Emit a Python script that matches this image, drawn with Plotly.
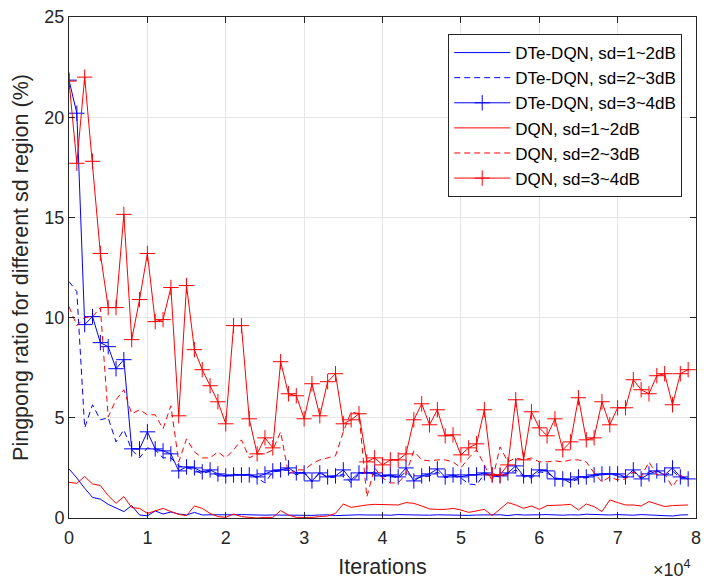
import numpy as np
import plotly.graph_objects as go

# Iterations (x 10^4 shown on axis)
iterations = np.arange(0, 80000, 1000)

dte_12 = [2.45, 2.0, 1.48, 1.03, 0.94, 0.68, 0.5, 0.32, 0.62, 0.15,
          0.11, 0.35, 0.2, 0.3, 0.2, 0.15, 0.28, 0.15, 0.16, 0.15,
          0.15, 0.16, 0.17, 0.15, 0.16, 0.14, 0.15, 0.14, 0.13, 0.15,
          0.14, 0.13, 0.15, 0.16, 0.12, 0.14, 0.15, 0.16, 0.15, 0.16,
          0.15, 0.14, 0.17, 0.16, 0.15, 0.15, 0.14, 0.16, 0.15, 0.17,
          0.15, 0.13, 0.15, 0.16, 0.15, 0.16, 0.12, 0.17, 0.15, 0.17,
          0.16, 0.17, 0.15, 0.14, 0.16, 0.15, 0.19, 0.17, 0.16, 0.15,
          0.17, 0.16, 0.14, 0.17, 0.16, 0.15, 0.13, 0.1, 0.15, 0.16]
dte_23 = [11.8, 11.3, 4.5, 5.65, 4.9, 5.0, 3.8, 4.4, 3.4, 3.0,
          3.5, 3.4, 3.0, 3.0, 2.6, 2.5, 2.4, 2.2, 2.35, 2.1,
          2.1, 2.2, 2.1, 2.2, 2.0, 1.75, 2.3, 2.35, 2.4, 2.15,
          2.3, 1.8, 2.3, 2.0, 2.05, 2.2, 1.75, 2.2, 2.3, 2.15,
          2.05, 2.1, 2.0, 2.3, 1.95, 2.05, 2.1, 2.3, 2.0, 2.1,
          2.0, 1.7, 1.65, 2.2, 2.1, 2.05, 2.2, 2.4, 2.05, 2.0,
          2.3, 2.25, 2.0, 1.95, 1.75, 2.0, 2.0, 2.1, 2.15, 2.2,
          2.1, 2.0, 2.3, 2.0, 2.3, 2.4, 2.1, 2.35, 2.0, 2.0]
dte_34 = [21.85, 20.2, 9.65, 10.05, 8.75, 8.55, 7.45, 7.9, 3.45, 3.45,
          4.3, 3.45, 3.35, 3.2, 2.35, 2.55, 2.5, 2.3, 2.4, 2.2,
          2.1, 2.15, 2.15, 2.15, 2.05, 2.2, 2.35, 2.4, 2.5, 2.25,
          2.25, 1.85, 2.25, 2.05, 2.1, 2.4, 1.9, 2.25, 2.25, 2.25,
          2.1, 2.15, 2.05, 2.5, 1.85, 2.1, 2.2, 2.45, 2.05, 2.15,
          2.05, 2.15, 2.15, 2.25, 2.15, 2.1, 2.25, 2.6, 2.1, 2.1,
          2.4, 2.35, 1.95, 1.95, 1.9, 2.05, 2.05, 2.15, 2.2, 2.2,
          2.2, 2.05, 2.4, 1.95, 2.2, 2.35, 2.15, 2.5, 2.05, 1.95]
dqn_12 = [1.78, 1.73, 2.07, 1.7, 1.62, 1.12, 0.73, 1.07, 0.52, 0.48,
          0.23, 0.35, 0.48, 0.32, 0.18, 0.12, 0.6, 0.48, 0.23, 0.07,
          0.03, 0.2, 0.07, 0.03, 0.0, 0.03, 0.03, 0.37, 0.15, 0.03,
          0.03, 0.03, 0.07, 0.1, 0.23, 0.7, 0.53, 0.6, 0.65, 0.68,
          0.68, 0.65, 0.65, 0.77, 0.73, 0.6, 0.45, 0.43, 0.43, 0.48,
          0.4, 0.28, 0.37, 0.43, 0.12, 0.45, 0.77, 0.65, 0.48, 0.6,
          0.43, 0.62, 0.62, 0.65, 0.68, 0.4, 0.7, 0.57, 0.32, 0.9,
          0.77, 0.65, 0.65, 0.6, 0.82, 0.68, 0.57, 0.62, 0.65, 0.65]
dqn_23 = [10.55, 9.6, 10.0, 10.05, 10.5, 5.05, 5.9, 6.4, 5.2, 5.4,
          5.15, 5.15, 4.45, 5.6, 2.8, 3.95, 3.3, 3.0, 3.0, 3.3,
          3.0, 3.4, 3.9, 3.0, 3.2, 3.2, 3.4, 4.3, 2.2, 2.4,
          2.4, 2.7, 2.9, 3.0, 3.1, 4.3, 5.3, 5.2, 1.05, 2.5,
          2.0, 1.75, 1.75, 2.2, 3.35, 2.9, 2.85, 2.9, 2.9, 2.8,
          2.5, 3.0, 3.4, 2.65, 1.85, 3.55, 2.8, 3.0, 2.9, 3.0,
          2.8, 2.8, 2.85, 2.8, 2.9, 2.9, 2.8, 2.25, 1.8, 2.05,
          1.9, 1.95, 2.3, 2.05, 2.8, 2.15, 2.2, 1.55, 2.15, 1.9]
dqn_34 = [21.8, 17.7, 22.0, 17.8, 13.2, 10.5, 10.5, 15.15, 8.9, 10.9,
          13.2, 9.8, 9.9, 11.5, 5.1, 11.6, 8.4, 7.4, 6.6, 5.8,
          4.7, 9.6, 9.6, 4.95, 3.2, 4.0, 3.5, 7.8, 6.2, 6.1,
          4.95, 6.7, 5.1, 6.8, 7.2, 4.7, 4.9, 5.2, 2.8, 3.0,
          2.65, 2.9, 2.9, 3.2, 4.9, 5.7, 4.65, 5.4, 4.1, 4.15,
          3.15, 3.5, 3.7, 5.4, 2.15, 2.15, 2.65, 5.9, 2.9, 5.3,
          4.5, 4.1, 4.95, 3.4, 3.8, 6.0, 3.9, 4.0, 5.8, 4.65,
          5.5, 5.5, 6.9, 6.4, 6.2, 7.1, 7.2, 5.65, 7.2, 7.4]

series_names = ["DTe-DQN, sd=1~2dB", "DTe-DQN, sd=2~3dB", "DTe-DQN, sd=3~4dB",
                "DQN, sd=1~2dB", "DQN, sd=2~3dB", "DQN, sd=3~4dB"]
x_tick_vals = [0, 10000, 20000, 30000, 40000, 50000, 60000, 70000, 80000]
x_tick_text = ["0", "1", "2", "3", "4", "5", "6", "7", "8"]
y_tick_vals = [0, 5, 10, 15, 20, 25]

FONT = "Liberation Sans, Arial, Helvetica, sans-serif"
AX = "#262626"
BLUE = "#0000FF"
RED = "#FF0000"

styles = [
    (dte_12, BLUE, "solid", False),
    (dte_23, BLUE, "6px,4px", False),
    (dte_34, BLUE, "solid", True),
    (dqn_12, RED, "solid", False),
    (dqn_23, RED, "6px,4px", False),
    (dqn_34, RED, "solid", True),
]

fig = go.Figure()
for i, (vals, col, dash, mk) in enumerate(styles):
    tr = dict(x=iterations, y=vals, name=series_names[i], legendgroup="g%d" % i,
              line=dict(color=col, width=1, dash=dash))
    if mk:
        tr["mode"] = "lines+markers"
        tr["marker"] = dict(symbol="cross-thin", size=11, color=col,
                            line=dict(color=col, width=1))
    else:
        tr["mode"] = "lines"
    fig.add_trace(go.Scatter(**tr))

fig.update_layout(
    width=706, height=581,
    margin=dict(l=69, r=5, t=17, b=63),
    paper_bgcolor="white", plot_bgcolor="white",
    font=dict(family=FONT, size=18, color=AX),
    showlegend=True,
    legend=dict(x=0.978, y=0.966, xanchor="right", yanchor="top",
                bgcolor="white", bordercolor=AX, borderwidth=1,
                font=dict(family=FONT, size=17, color="#000000"),
                traceorder="grouped", tracegroupgap=0, itemwidth=56),
    xaxis=dict(range=[0, 80000], tickvals=x_tick_vals, ticktext=x_tick_text,
               showgrid=True, gridcolor="#e6e6e6", gridwidth=1,
               ticks="inside", ticklen=6, tickcolor=AX, tickwidth=1,
               showline=True, linecolor=AX, linewidth=1, mirror="allticks",
               zeroline=False, tickfont=dict(size=18, color=AX),
               ticklabelstandoff=3, ticklabeloverflow="allow",
               title=dict(text="Iterations", font=dict(size=21.5, color=AX), standoff=12)),
    yaxis=dict(range=[0, 25], tickvals=y_tick_vals,
               showgrid=True, gridcolor="#e6e6e6", gridwidth=1,
               ticks="inside", ticklen=6, tickcolor=AX, tickwidth=1,
               showline=True, linecolor=AX, linewidth=1, mirror="allticks",
               zeroline=False, tickfont=dict(size=18, color=AX),
               ticklabeloverflow="allow",
               title=dict(text="Pingpong ratio for different sd region (%)",
                          font=dict(size=21.5, color=AX), standoff=9)),
)

fig.add_annotation(text="×10<sup>4</sup>", xref="paper", yref="paper",
                   x=0.996, y=-0.1, xanchor="right", yanchor="middle",
                   showarrow=False, font=dict(family=FONT, size=18, color=AX))

fig.write_html("out.html")
